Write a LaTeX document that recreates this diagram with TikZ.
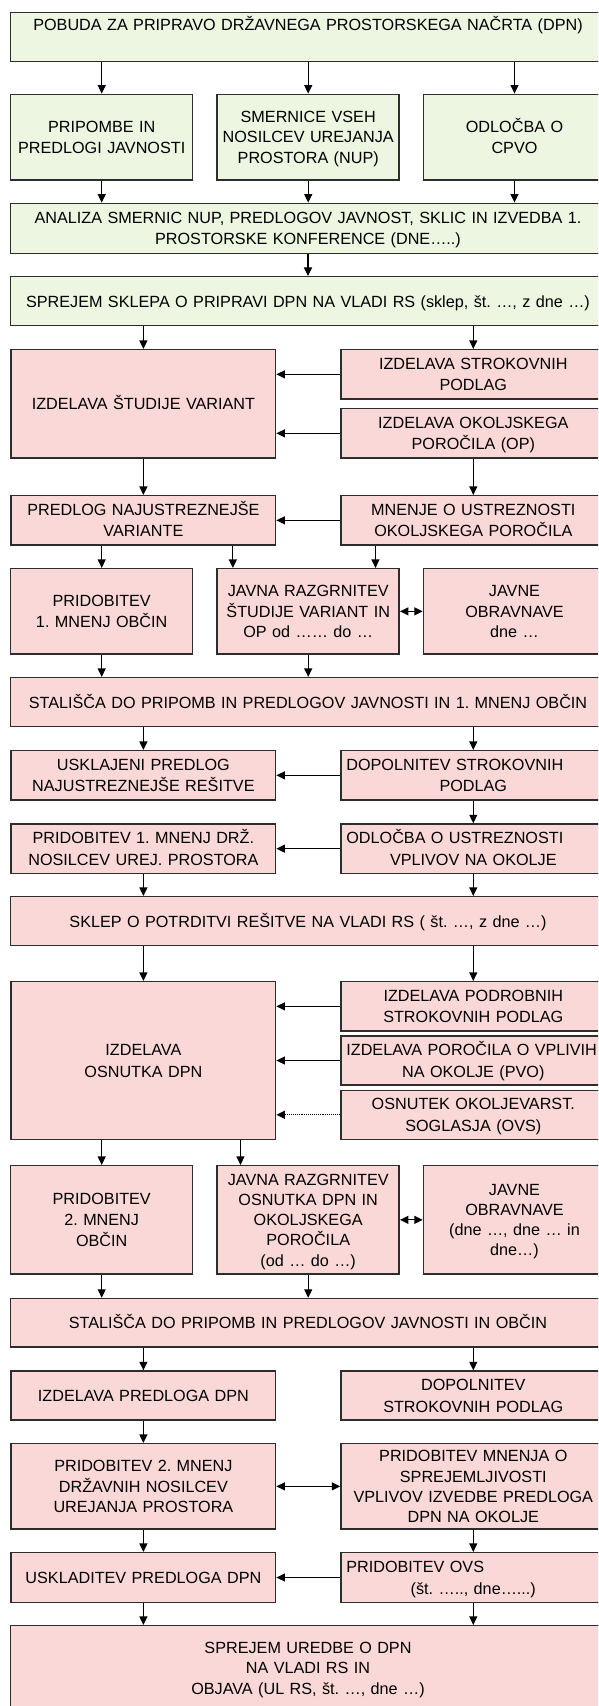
\documentclass[tikz,border=0pt]{standalone}
\usepackage{fontspec}
\setmainfont{Liberation Sans}
\usetikzlibrary{arrows.meta}
\frenchspacing

\definecolor{pinkfill}{RGB}{251,216,216}
\definecolor{greenfill}{RGB}{236,246,225}
\definecolor{boxline}{RGB}{45,45,45}

% a line set flush left inside an otherwise centred box
\newcommand{\lfline}[1]{\makebox[\hsize][l]{#1}}

\tikzset{
  box/.style={draw=boxline, line width=1.5pt, rectangle, align=center,
    inner xsep=5.3pt, inner ysep=0pt,
    font=\fontsize{16.2}{21.6}\selectfont, text height=11.6pt, text depth=0pt},
  green/.style={box, fill=greenfill},
  pink/.style={box, fill=pinkfill},
  wide/.style={minimum width=594.6pt, text width=584pt},
  half/.style={minimum width=264.5pt, text width=253.9pt},
  third/.style={minimum width=182pt, inner xsep=3pt, text width=176pt},
  l2/.style={text depth=21.6pt},
  l3/.style={font=\fontsize{16.2}{20.7}\selectfont, text depth=41.4pt},
  l4/.style={font=\fontsize{16.2}{20.2}\selectfont, text depth=60.6pt},
  l5/.style={font=\fontsize{16.2}{20.2}\selectfont, text depth=80.8pt},
  tip/.tip={Triangle[length=8.5pt,width=8pt]},
  arr/.style={draw=black, line width=1.1pt, -tip},
  darr/.style={draw=black, line width=1.1pt, tip-tip},
}

\begin{document}
\begin{tikzpicture}[x=1pt, y=-1pt]
\useasboundingbox (0,0) rectangle (598,1706);
\clip (0,0) rectangle (598,1706);

% ---------- initiation phase ----------
\node[green, wide, minimum height=49.4pt, text depth=25pt] (pobuda) at (308,37)
  {POBUDA ZA PRIPRAVO DRŽAVNEGA PROSTORSKEGA NAČRTA (DPN)};

\node[green, third, minimum height=85.7pt, l2] (pripombe) at (101.7,137.15)
  {PRIPOMBE IN\\PREDLOGI JAVNOSTI};
\node[green, third, minimum height=85.7pt, l3] (smernice) at (308.2,137.15)
  {SMERNICE VSEH\\NOSILCEV UREJANJA\\PROSTORA (NUP)};
\node[green, third, minimum height=85.7pt, l2] (cpvo) at (514.5,137.15)
  {ODLOČBA O\\CPVO};

\node[green, wide, minimum height=50pt, l2] (analiza) at (308,228.3)
  {ANALIZA SMERNIC NUP, PREDLOGOV JAVNOST, SKLIC IN IZVEDBA 1.\\PROSTORSKE KONFERENCE (DNE…..)};

\node[green, wide, minimum height=49pt] (sklep1) at (308,301.2)
  {SPREJEM SKLEPA O PRIPRAVI DPN NA VLADI RS (sklep, št. …, z dne …)};

% ---------- study of variants ----------
\node[pink, half, minimum height=108.3pt] (studija) at (143.4,403.85)
  {IZDELAVA ŠTUDIJE VARIANT};
\node[pink, half, minimum height=49.3pt, l2] (podlage1) at (473.3,374.35)
  {IZDELAVA STROKOVNIH\\PODLAG};
\node[pink, half, minimum height=49.3pt, l2] (op) at (473.3,433.35)
  {IZDELAVA OKOLJSKEGA\\POROČILA (OP)};

\node[pink, half, minimum height=49.3pt, l2] (predlog) at (143.4,520.35)
  {PREDLOG NAJUSTREZNEJŠE\\VARIANTE};
\node[pink, half, minimum height=49.3pt, l2] (mnenjeop) at (473.3,520.35)
  {MNENJE O USTREZNOSTI\\OKOLJSKEGA POROČILA};

\node[pink, third, minimum height=85.3pt, l2] (obcine1) at (101.7,611.35)
  {PRIDOBITEV\\1. MNENJ OBČIN};
\node[pink, third, minimum height=85.3pt, l3] (razgrn1) at (308.2,611.35)
  {JAVNA RAZGRNITEV\\ŠTUDIJE VARIANT IN\\OP od …… do …};
\node[pink, third, minimum height=85.3pt, l3] (obravn1) at (514.5,611.35)
  {JAVNE\\OBRAVNAVE\\dne …};

\node[pink, wide, minimum height=49pt] (stalisca1) at (308,702.2)
  {STALIŠČA DO PRIPOMB IN PREDLOGOV JAVNOSTI IN 1. MNENJ OBČIN};

\node[pink, half, minimum height=49.3pt, l2] (usklajeni) at (143.4,775.35)
  {USKLAJENI PREDLOG\\NAJUSTREZNEJŠE REŠITVE};
\node[pink, half, minimum height=49.3pt, l2] (dopoln1) at (473.3,775.35)
  {\lfline{DOPOLNITEV STROKOVNIH}\\PODLAG};

\node[pink, half, minimum height=49.3pt, l2] (drz1) at (143.4,848.65)
  {PRIDOBITEV 1. MNENJ DRŽ.\\NOSILCEV UREJ. PROSTORA};
\node[pink, half, minimum height=49.3pt, l2] (odlocba) at (473.3,848.65)
  {\lfline{ODLOČBA O USTREZNOSTI}\\VPLIVOV NA OKOLJE};

\node[pink, wide, minimum height=49pt] (potrditev) at (308,921.2)
  {SKLEP O POTRDITVI REŠITVE NA VLADI RS ( št. …, z dne …)};

% ---------- draft plan ----------
\node[pink, half, minimum height=157.6pt, l2] (osnutek) at (143.4,1060.5)
  {IZDELAVA\\OSNUTKA DPN};
\node[pink, half, minimum height=49.3pt, l2] (podlage2) at (473.3,1006.35)
  {IZDELAVA PODROBNIH\\STROKOVNIH PODLAG};
\node[pink, half, minimum height=49pt, l2] (pvo) at (473.3,1060.5)
  {\lfline{IZDELAVA POROČILA O VPLIVIH}\\NA OKOLJE (PVO)};
\node[pink, half, minimum height=49pt, l2] (ovsdraft) at (473.3,1114.8)
  {OSNUTEK OKOLJEVARST.\\SOGLASJA (OVS)};

\node[pink, third, minimum height=108.3pt, l3] (obcine2) at (101.7,1219.85)
  {PRIDOBITEV\\2. MNENJ\\OBČIN};
\node[pink, third, minimum height=108.3pt, l5] (razgrn2) at (308.2,1219.85)
  {JAVNA RAZGRNITEV\\OSNUTKA DPN IN\\OKOLJSKEGA\\POROČILA\\(od … do …)};
\node[pink, third, minimum height=108.3pt, l4] (obravn2) at (514.5,1219.85)
  {JAVNE\\OBRAVNAVE\\(dne …, dne … in\\dne…)};

\node[pink, wide, minimum height=48.5pt] (stalisca2) at (308,1322.75)
  {STALIŠČA DO PRIPOMB IN PREDLOGOV JAVNOSTI IN OBČIN};

% ---------- proposal and adoption ----------
\node[pink, half, minimum height=49pt] (predlogdpn) at (143.4,1395.5)
  {IZDELAVA PREDLOGA DPN};
\node[pink, half, minimum height=49pt, l2] (dopoln2) at (473.3,1395.5)
  {DOPOLNITEV\\STROKOVNIH PODLAG};

\node[pink, half, minimum height=85.3pt, l3] (drz2) at (143.4,1486.35)
  {PRIDOBITEV 2. MNENJ\\DRŽAVNIH NOSILCEV\\UREJANJA PROSTORA};
\node[pink, half, minimum height=85.3pt, l4] (sprejemljivost) at (473.3,1486.35)
  {PRIDOBITEV MNENJA O\\SPREJEMLJIVOSTI\\VPLIVOV IZVEDBE PREDLOGA\\DPN NA OKOLJE};

\node[pink, half, minimum height=49.6pt] (uskladitev) at (143.4,1577.5)
  {USKLADITEV PREDLOGA DPN};
\node[pink, half, minimum height=49.6pt, l2] (ovs) at (473.3,1577.5)
  {\lfline{PRIDOBITEV OVS}\\(št. ….., dne…...)};

\node[pink, wide, minimum height=84.8pt, l3] (uredba) at (308,1668.1)
  {SPREJEM UREDBE O DPN\\NA VLADI RS IN\\OBJAVA (UL RS, št. …, dne …)};

% ---------- entry points that sit off the box centres ----------
\coordinate (razgrn1a) at ([xshift=16.4pt]razgrn1.north west);
\coordinate (razgrn1b) at ([xshift=-24.5pt]razgrn1.north east);
\coordinate (razgrn2a) at ([xshift=24pt]razgrn2.north west);

% ---------- connectors ----------
\foreach \n in {pripombe,smernice,cpvo}{
  \draw[arr] (\n.north |- pobuda.south) -- (\n.north);
  \draw[arr] (\n.south) -- (\n.south |- analiza.north);
}
\draw[arr] (analiza.south) -- (sklep1.north);
\draw[arr] (studija.north |- sklep1.south) -- (studija.north);
\draw[arr] (podlage1.north |- sklep1.south) -- (podlage1.north);
\draw[arr] (podlage1.west) -- (studija.east |- podlage1.west);
\draw[arr] (op.west) -- (studija.east |- op.west);
\draw[arr] (studija.south) -- (predlog.north);
\draw[arr] (op.south) -- (mnenjeop.north);
\draw[arr] (mnenjeop.west) -- (predlog.east |- mnenjeop.west);

\draw[arr] (obcine1.north |- predlog.south) -- (obcine1.north);
\draw[arr] (razgrn1a |- predlog.south) -- (razgrn1a);
\draw[arr] (razgrn1b |- mnenjeop.south) -- (razgrn1b);
\draw[darr] (razgrn1.east) -- (obravn1.west);
\draw[arr] (obcine1.south) -- (obcine1.south |- stalisca1.north);
\draw[arr] (razgrn1.south) -- (razgrn1.south |- stalisca1.north);

\draw[arr] (usklajeni.north |- stalisca1.south) -- (usklajeni.north);
\draw[arr] (dopoln1.north |- stalisca1.south) -- (dopoln1.north);
\draw[arr] (dopoln1.west) -- (usklajeni.east |- dopoln1.west);
\draw[arr] (dopoln1.south) -- (odlocba.north);
\draw[arr] (odlocba.west) -- (drz1.east |- odlocba.west);
\draw[arr] (drz1.south) -- (drz1.south |- potrditev.north);
\draw[arr] (odlocba.south) -- (odlocba.south |- potrditev.north);

\draw[arr] (osnutek.north |- potrditev.south) -- (osnutek.north);
\draw[arr] (podlage2.north |- potrditev.south) -- (podlage2.north);
\draw[arr] (podlage2.west) -- (osnutek.east |- podlage2.west);
\draw[arr] (pvo.west) -- (osnutek.east |- pvo.west);
\draw[arr, densely dotted] (ovsdraft.west) -- (osnutek.east |- ovsdraft.west);

\draw[arr] (obcine2.north |- osnutek.south) -- (obcine2.north);
\draw[arr] (razgrn2a |- osnutek.south) -- (razgrn2a);
\draw[darr] (razgrn2.east) -- (obravn2.west);
\draw[arr] (obcine2.south) -- (obcine2.south |- stalisca2.north);
\draw[arr] (razgrn2.south) -- (razgrn2.south |- stalisca2.north);

\draw[arr] (predlogdpn.north |- stalisca2.south) -- (predlogdpn.north);
\draw[arr] (dopoln2.north |- stalisca2.south) -- (dopoln2.north);
\draw[arr] (predlogdpn.south) -- (drz2.north);
\draw[darr] (drz2.east) -- (sprejemljivost.west);
\draw[arr] (drz2.south) -- (uskladitev.north);
\draw[arr] (sprejemljivost.south) -- (ovs.north);
\draw[arr] (ovs.west) -- (uskladitev.east |- ovs.west);
\draw[arr] (uskladitev.south) -- (uskladitev.south |- uredba.north);
\draw[arr] (ovs.south) -- (ovs.south |- uredba.north);
\end{tikzpicture}
\end{document}
